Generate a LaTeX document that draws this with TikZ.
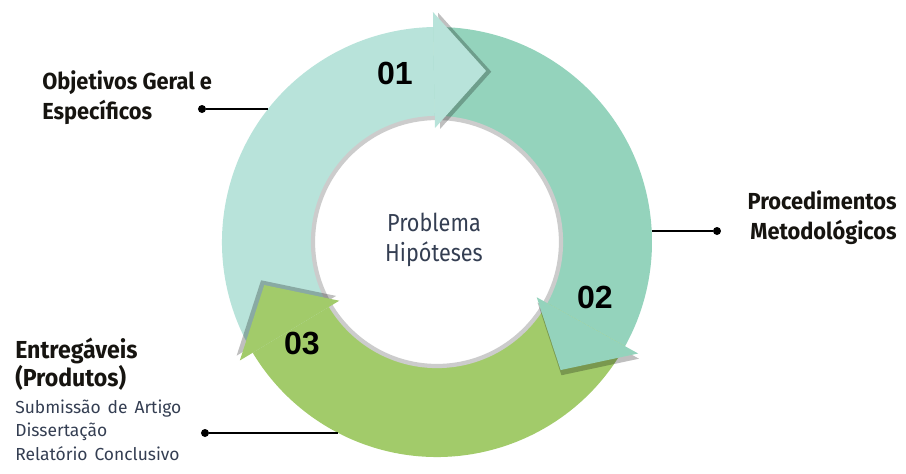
\documentclass[tikz,border=0pt]{standalone}
\usepackage{fontspec}
\setmainfont{Fira Sans}
\newfontfamily\condfont[FakeStretch=0.94]{Fira Sans}
\newfontfamily\coretextfont[FakeStretch=0.88]{Fira Sans}
\newfontfamily\listfont[WordSpace=1.5]{Fira Sans}
\newfontfamily\numfont{Liberation Sans}
\usetikzlibrary{calc, positioning}
\definecolor{cycleTeal}{RGB}{184, 227, 218}
\definecolor{cycleGreen}{RGB}{148, 211, 188}
\definecolor{cycleLime}{RGB}{162, 203, 106}
\definecolor{labelInk}{RGB}{22, 20, 16}
\definecolor{slateInk}{RGB}{52, 62, 82}

\tikzset{
  headshadow/.style={fill=black, fill opacity=0.25},
  dotmark/.style={circle, fill=black, inner sep=0pt, minimum size=0.2cm},
  leader/.style={line width=1pt},
  stepnum/.style={font=\numfont\bfseries\fontsize{22.8}{26}\selectfont},
  headline/.style={font=\condfont\bfseries\fontsize{16.5}{21.6}\selectfont, text=labelInk, inner sep=0pt},
  itemline/.style={font=\listfont\fontsize{12.4}{17}\selectfont, text=slateInk, inner sep=0pt}
}

\begin{document}
\begin{tikzpicture}
    \useasboundingbox (-10.925,-5.775) rectangle (11.725,6.05);
    % Radii: ring, centre disc, arrow heads
    \def\rout{5.375}
    \def\rin{3.1}
    \def\rbi{2.85}
    \def\rbo{5.75}
    \def\rtip{4.45}

    % Ring segments
    \fill[cycleTeal] (0,0) -- (211:\rout) arc (211:91:\rout) -- cycle;
    \fill[cycleGreen] (0,0) -- (91:\rout) arc (91:-29:\rout) -- cycle;
    \fill[cycleLime] (0,0) -- (-29:\rout) arc (-29:-149:\rout) -- cycle;

    % Centre disc
    \draw[draw=black!20, line width=3pt, fill=white] (0,0) circle (\rin);
    \node[align=center, font=\coretextfont\fontsize{17.5}{21.3}\selectfont, text=slateInk] (core) at (-0.075,0.05) {Problema\\Hipóteses};

    % Head 01
    \fill[headshadow, shift={(0.13,-0.02)}] (91:\rbi) -- (74:\rtip) -- (91:\rbo) -- cycle;
    \fill[cycleTeal] (91:\rbi) -- (74:\rtip) -- (91:\rbo) -- cycle;

    % Head 02
    \fill[headshadow, shift={(0.02,-0.13)}] (-29:\rbi) -- (-46:\rtip) -- (-29:\rbo) -- cycle;
    \fill[cycleGreen] (-29:\rbi) -- (-46:\rtip) -- (-29:\rbo) -- cycle;

    % Head 03
    \fill[headshadow, shift={(-0.08,0.12)}] (211:\rbi) -- (194:\rtip) -- (211:\rbo) -- cycle;
    \fill[cycleLime] (211:\rbi) -- (194:\rtip) -- (211:\rbo) -- cycle;

    % Step numbers
    \node[stepnum] (step01) at (-1.05,4.225) {01};
    \node[stepnum] (step02) at (3.95,-1.375) {02};
    \node[stepnum] (step03) at (-3.375,-2.525) {03};

    % Objetivos
    \node[headline, anchor=north west, align=left] (goals) at (-9.875,4.3) {Objetivos Geral e\\Específicos};
    \node[dotmark] (goalsDot) at (-5.875,3.325) {};
    \coordinate (goalsEnd) at (141.8:\rout);
    \draw[leader] (goalsDot) -- (goalsDot -| goalsEnd);

    % Procedimentos
    \node[headline, anchor=north east, align=right] (method) at (11.5,1.3) {Procedimentos\\Metodológicos};
    \node[dotmark] (methodDot) at (7.0,0.275) {};
    \coordinate (methodEnd) at (2.9:\rout);
    \draw[leader] (methodEnd |- methodDot) -- (methodDot);

    % Entregaveis
    \node[headline, anchor=north west, align=left, font=\condfont\bfseries\fontsize{17.5}{19.9}\selectfont] (deliver) at (-10.55,-2.4) {Entregáveis\\(Produtos)};
    \node[itemline, anchor=north west, align=left] (deliverList) at (-10.55,-3.93) {Submissão de Artigo\\Dissertação\\Relatório Conclusivo};
    \node[dotmark] (deliverDot) at (-5.8,-4.775) {};
    \coordinate (deliverEnd) at (242.7:\rout);
    \draw[leader] (deliverDot) -- (deliverDot -| deliverEnd);
\end{tikzpicture}
\end{document}
